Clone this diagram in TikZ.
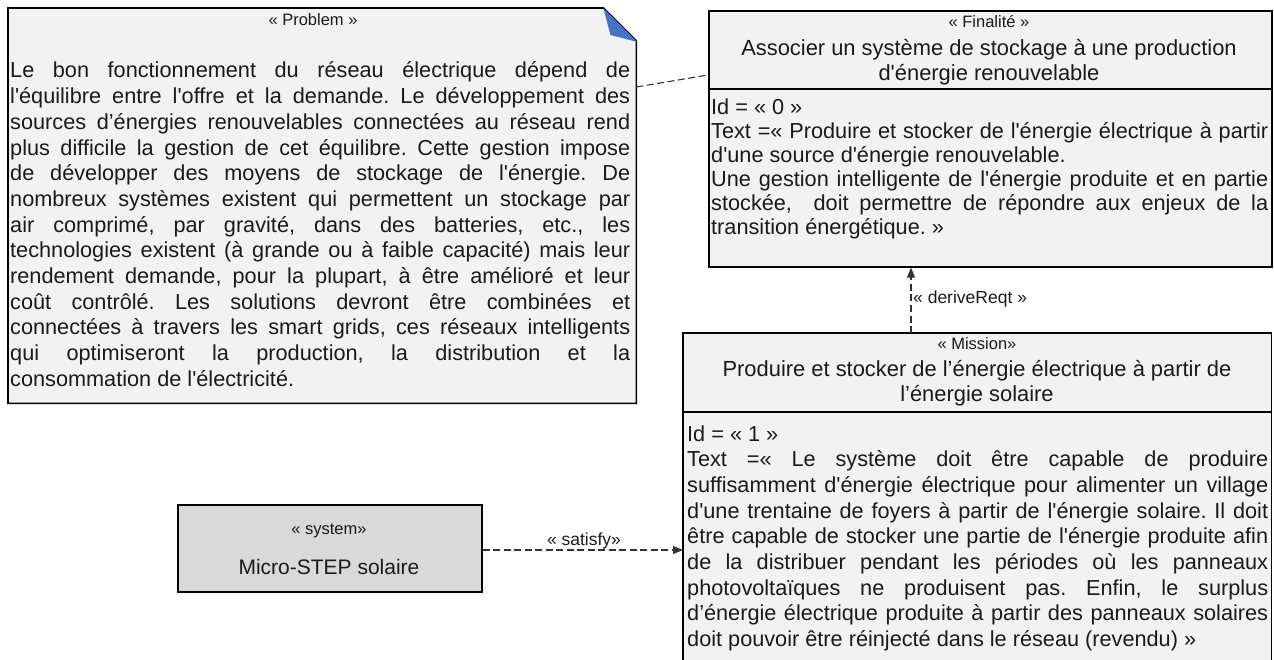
\documentclass[tikz,border=0pt]{standalone}
\usepackage{fontspec}
\newfontfamily\arialf{Liberation Sans}
\usetikzlibrary{arrows.meta,calc}
\definecolor{boxfill}{HTML}{F2F2F2}
\definecolor{sysfill}{HTML}{D9D9D9}
\definecolor{foldblue}{HTML}{4472C4}
\definecolor{txt}{HTML}{1A1A1A}
\definecolor{linkc}{HTML}{333333}
\newcommand{\bodyfont}{\arialf\fontsize{21.7}{25.7}\selectfont\frenchspacing\tolerance=10000\relax\hbadness=10000\relax}
\newcommand{\finfont}{\arialf\fontsize{21.7}{24}\selectfont\frenchspacing\tolerance=10000\relax\hbadness=10000\relax}
\begin{document}
\begin{tikzpicture}[x=1pt,y=-1pt, font=\arialf, text=txt,
  boxline/.style={draw=black, line width=1.6pt},
  umlbox/.style={boxline, fill=boxfill, rectangle, inner sep=0pt, anchor=north west},
  plainbox/.style={rectangle, inner sep=0pt, anchor=north west},
  stereo/.style={font=\arialf\fontsize{16.5}{19}\selectfont, inner sep=0pt, anchor=base},
  titletext/.style={font=\arialf\fontsize{21.9}{25}\selectfont, inner sep=0pt, anchor=base},
  bodytext/.style={font=\bodyfont, inner sep=0pt, anchor=base west, align=justify},
  link/.style={draw=linkc, line width=1.1pt, dash pattern=on 7pt off 3.5pt},
  linklabel/.style={font=\arialf\fontsize{17.5}{20}\selectfont, inner sep=0pt, anchor=base},
  arrowtip/.style={-{Triangle[length=10pt,width=8pt]}}
]
\useasboundingbox (0,0) rectangle (1274,660);

% Problem box with folded corner
\node[plainbox, minimum width=628pt, minimum height=395pt] (prob) at (8,8) {};
\draw[boxline, fill=boxfill] (prob.north west) -- ($(prob.north east)+(-33,0)$) -- ($(prob.north east)+(0,33)$) -- (prob.south east) -- (prob.south west) -- cycle;
\fill[foldblue] ($(prob.north east)+(-33,0)$) -- ($(prob.north east)+(1,34)$) -- ($(prob.north east)+(-26,27)$) -- cycle;
\node[stereo] (probst) at (313,26) {« Problem »};
\node[bodytext, text width=620pt] (probtx) at (10,78) {Le bon fonctionnement du réseau électrique dépend de\linebreak
l'équilibre entre l'offre et la demande. Le développement des\linebreak
sources d’énergies renouvelables connectées au réseau rend\linebreak
plus difficile la gestion de cet équilibre. Cette gestion impose\linebreak
de développer des moyens de stockage de l'énergie. De\linebreak
nombreux systèmes existent qui permettent un stockage par\linebreak
air comprimé, par gravité, dans des batteries, etc., les\linebreak
technologies existent (à grande ou à faible capacité) mais leur\linebreak
rendement demande, pour la plupart, à être amélioré et leur\linebreak
coût contrôlé. Les solutions devront être combinées et\linebreak
connectées à travers les smart grids, ces réseaux intelligents\linebreak
qui optimiseront la production, la distribution et la\linebreak
consommation de l'électricité.};

% Finalite box
\node[umlbox, minimum width=563pt, minimum height=256pt] (fin) at (708,10) {};
\draw[boxline] ($(fin.north west)+(0,79)$) -- ($(fin.north east)+(0,79)$);
\node[stereo] (finst) at (989,28) {« Finalité »};
\node[titletext] (fint1) at (989,56) {Associer un système de stockage à une production};
\node[titletext] (fint2) at (989,81) {d'énergie renouvelable};
\node[bodytext, font=\finfont, text width=557pt] (fintx) at (711,115) {Id = « 0 »\par
Text =« Produire et stocker de l'énergie électrique à partir\linebreak
d'une source d'énergie renouvelable.\par
Une gestion intelligente de l'énergie produite et en partie\linebreak
stockée,~ doit permettre de répondre aux enjeux de la\linebreak
transition énergétique. »};

% Mission box (continues below the picture)
\node[plainbox, minimum width=588pt, minimum height=330pt] (mis) at (683,333) {};
\fill[boxfill] (mis.south west) rectangle (mis.north east);
\draw[boxline] (mis.south west) -- (mis.north west) -- (mis.north east) -- (mis.south east);
\draw[boxline] ($(mis.north west)+(0,79)$) -- ($(mis.north east)+(0,79)$);
\node[stereo] (misst) at (977,349) {« Mission»};
\node[titletext] (mist1) at (977,376) {Produire et stocker de l’énergie électrique à partir de};
\node[titletext] (mist2) at (977,401) {l’énergie solaire};
\node[bodytext, text width=581pt] (mistx) at (687,441) {Id = « 1 »\par
Text =« Le système doit être capable de produire\linebreak
suffisamment d'énergie électrique pour alimenter un village\linebreak
d'une trentaine de foyers à partir de l'énergie solaire. Il doit\linebreak
être capable de stocker une partie de l'énergie produite afin\linebreak
de la distribuer pendant les périodes où les panneaux\linebreak
photovoltaïques ne produisent pas. Enfin, le surplus\linebreak
d’énergie électrique produite à partir des panneaux solaires\linebreak
doit pouvoir être réinjecté dans le réseau (revendu) »};

% System box
\node[umlbox, fill=sysfill, minimum width=304pt, minimum height=87pt] (sys) at (177,504) {};
\node[stereo] (sysst) at (329,534) {« system»};
\node[titletext, font=\arialf\fontsize{21}{24}\selectfont] (sysnm) at (329,574) {Micro-STEP solaire};

% Connectors
\draw[link] (prob.east |- 0,87) -- (fin.west |- 0,75);
\draw[link, arrowtip] (mis.north -| 911,0) -- (fin.south -| 911,0);
\node[linklabel, anchor=base west] (drl) at (913,303) {« deriveReqt »};
\draw[link, arrowtip] (sys.east |- 0,550) -- (mis.west |- 0,550);
\node[linklabel] (satl) at (584,545) {« satisfy»};
\end{tikzpicture}
\end{document}
